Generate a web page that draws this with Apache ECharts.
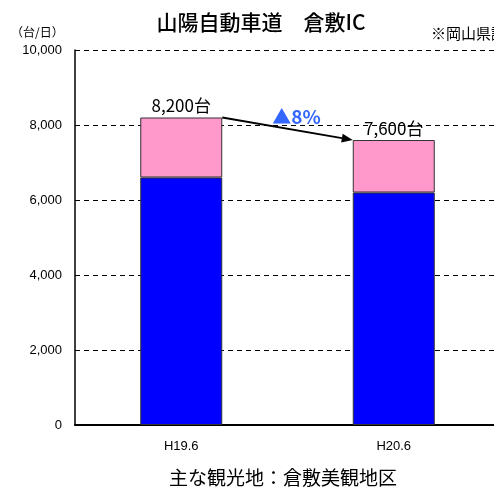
<!DOCTYPE html>
<html>
<head>
    <meta charset="utf-8">
    <title>倉敷IC</title>
    <script src="https://cdn.jsdelivr.net/npm/echarts@6/dist/echarts.min.js"></script>
    <style>
        html, body { margin: 0; padding: 0; background: #fff; }
        #main { width: 494px; height: 487px; }
    </style>
</head>
<body>
    <div id="main"></div>
    <script>
        var categories = ['H19.6', 'H20.6'];
        var baseValues = [6600, 6200];   // 青
        var topValues = [1600, 1400];    // ピンク
        var totals = [8200, 7600];
        var yTicks = [0, 2000, 4000, 6000, 8000, 10000];
        var changeText = '▲8%';

        var jpFont = '"Noto Sans CJK JP", sans-serif';
        var numFont = '"Liberation Sans", Arial, sans-serif';

        var chart = echarts.init(document.getElementById('main'));

        // 固定テキスト
        var labels = [
            {
                type: 'text', x: 261, y: 22,
                style: { text: '山陽自動車道　倉敷IC', font: '500 21px ' + jpFont, fill: '#000', align: 'center', verticalAlign: 'middle' }
            },
            {
                type: 'text', x: 11, y: 32,
                style: { text: '（台/日）', font: '12px ' + jpFont, fill: '#000', verticalAlign: 'middle' }
            },
            {
                type: 'text', x: 431, y: 33,
                style: { text: '※岡山県調べ', font: '15px ' + jpFont, fill: '#000', verticalAlign: 'middle' }
            },
            {
                type: 'text', x: 283, y: 478,
                style: { text: '主な観光地：倉敷美観地区', font: '19px ' + jpFont, fill: '#000', align: 'center', verticalAlign: 'middle' }
            }
        ];

        var option = {
            animation: false,
            grid: { left: 75, top: 50, right: -6, bottom: 62, outerBoundsMode: 'none' },
            xAxis: {
                type: 'category',
                data: categories,
                axisLine: { lineStyle: { color: '#000', width: 2 } },
                axisTick: { inside: true, length: 5, lineStyle: { color: '#000' } },
                axisLabel: { margin: 15, fontFamily: numFont, fontSize: 13, color: '#000' }
            },
            yAxis: {
                type: 'value',
                min: yTicks[0],
                max: yTicks[yTicks.length - 1],
                interval: 2000,
                axisLine: { show: true, lineStyle: { color: '#000', width: 1.5 } },
                axisTick: { show: true, inside: true, length: 4, lineStyle: { color: '#000' } },
                axisLabel: {
                    margin: 13,
                    fontFamily: numFont,
                    fontSize: 13,
                    color: '#000',
                    formatter: function (v) { return v.toLocaleString('en-US'); }
                },
                splitLine: { show: true, lineStyle: { color: '#000', type: [5, 4], width: 1 } }
            },
            series: [
                {
                    name: 'base',
                    type: 'bar',
                    stack: 'total',
                    barWidth: 82,
                    data: baseValues,
                    itemStyle: { color: '#0000ff', borderColor: '#333', borderWidth: 1 }
                },
                {
                    name: 'top',
                    type: 'bar',
                    stack: 'total',
                    barWidth: 82,
                    data: topValues,
                    itemStyle: { color: '#ff99cc', borderColor: '#333', borderWidth: 1 },
                    label: {
                        show: true,
                        position: 'top',
                        distance: 3,
                        fontFamily: jpFont,
                        fontSize: 17,
                        color: '#000',
                        formatter: function (p) { return totals[p.dataIndex].toLocaleString('en-US') + '台'; }
                    }
                }
            ],
            graphic: labels
        };
        chart.setOption(option);

        // 矢印（バーの端から端へ）
        var half = 41;
        var p1 = chart.convertToPixel({ gridIndex: 0 }, [0, totals[0]]);
        var p2 = chart.convertToPixel({ gridIndex: 0 }, [1, totals[1]]);
        var x1 = p1[0] + half, y1 = p1[1];
        var x2 = p2[0] - half, y2 = p2[1];
        var ang = Math.atan2(y2 - y1, x2 - x1);
        var hl = 11, hw = 4.5;
        var bx = x2 - hl * Math.cos(ang), by = y2 - hl * Math.sin(ang);
        var head = [
            [x2, y2],
            [bx + hw * Math.sin(ang), by - hw * Math.cos(ang)],
            [bx - hw * Math.sin(ang), by + hw * Math.cos(ang)]
        ];
        chart.setOption({
            graphic: labels.concat([
                {
                    type: 'line',
                    shape: { x1: x1, y1: y1, x2: bx, y2: by },
                    style: { stroke: '#000', lineWidth: 2 },
                    z: 10
                },
                {
                    type: 'polygon',
                    shape: { points: head },
                    style: { fill: '#000' },
                    z: 10
                },
                {
                    type: 'text',
                    x: (x1 + x2) / 2 + 9,
                    y: (y1 + y2) / 2 - 12,
                    style: {
                        text: changeText,
                        font: 'bold 19px ' + jpFont,
                        fill: '#3366ff',
                        align: 'center',
                        verticalAlign: 'middle'
                    },
                    z: 10
                }
            ])
        });

        window.onresize = function () {
            chart.resize();
        };
    </script>
</body>
</html>
